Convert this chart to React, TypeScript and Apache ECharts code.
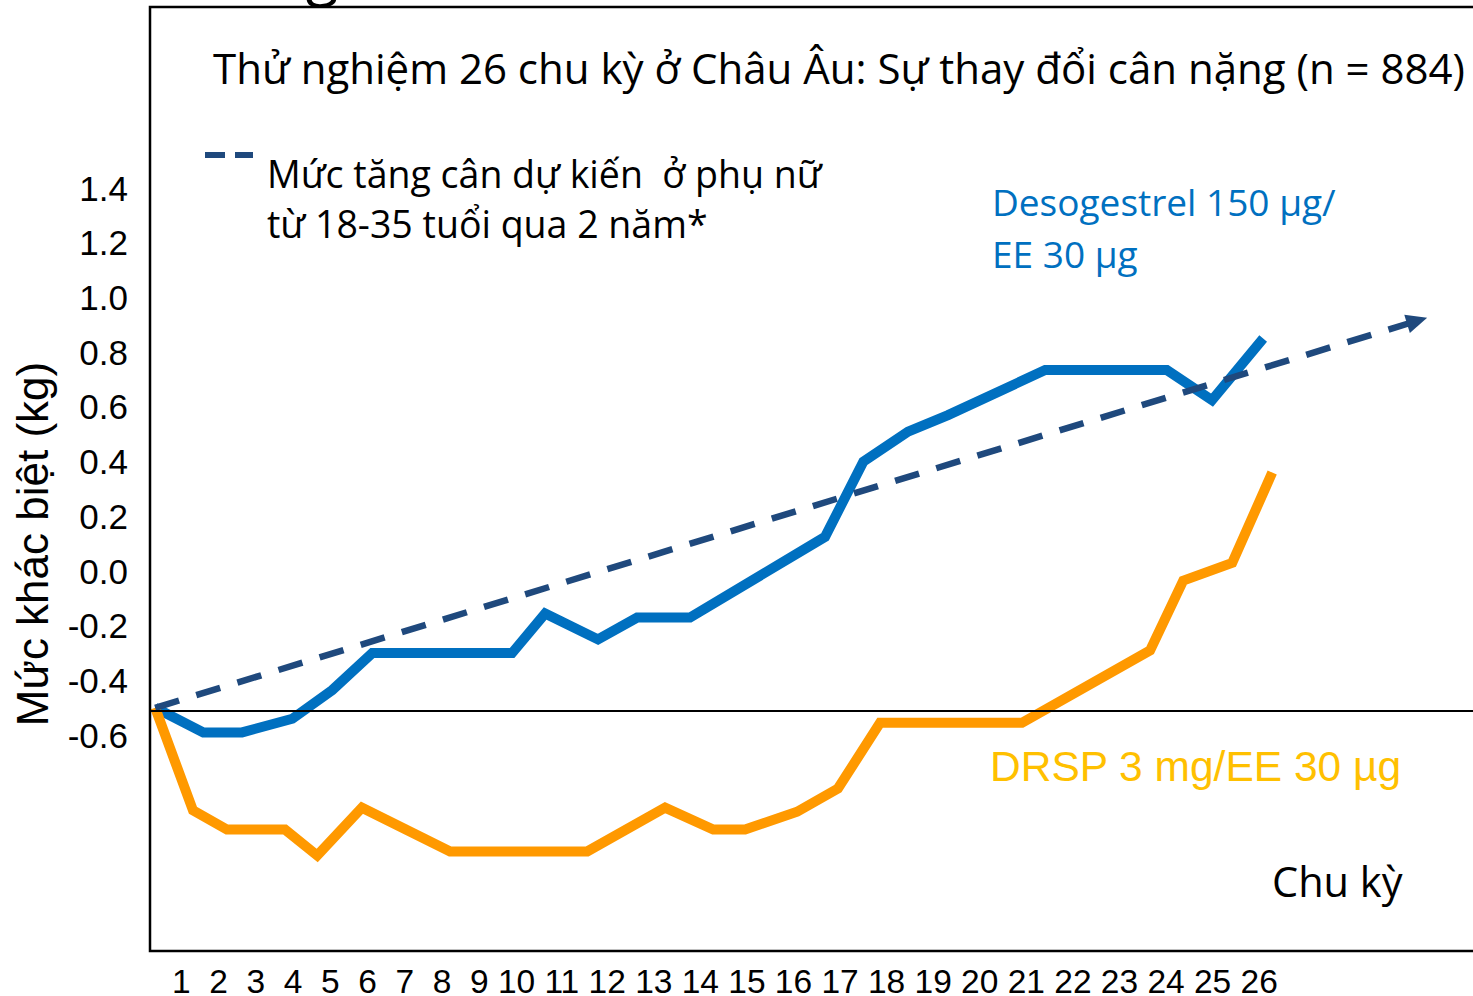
import React, { useEffect, useRef } from "react";
import * as echarts from "echarts";

// ---- data ----
const blueCycles = [0, 1.12, 2.02, 3.19, 4.12, 5.05, 8.3, 9.07, 10.3, 11.21, 12.44, 15.58, 16.47, 17.51, 18.44, 20.7, 23.53, 24.58, 25.77];
const blueValues = [-0.5, -0.59, -0.59, -0.54, -0.435, -0.3, -0.3, -0.155, -0.25, -0.17, -0.17, 0.125, 0.4, 0.51, 0.57, 0.735, 0.735, 0.625, 0.85];

const orangeCycles = [0, 0.88, 1.67, 3.02, 3.77, 4.81, 6.86, 10.05, 11.86, 12.98, 13.72, 14.93, 15.88, 16.86, 20.16, 23.14, 23.91, 25.05, 25.98];
const orangeValues = [-0.5, -0.875, -0.945, -0.945, -1.04, -0.865, -1.025, -1.025, -0.865, -0.945, -0.945, -0.88, -0.795, -0.555, -0.555, -0.29, -0.035, 0.03, 0.36];

const trendStart = [0, -0.5];
const trendEnd = [29.35, 0.915];
const baselineValue = -0.51;

const cycleLabels = ["1", "2", "3", "4", "5", "6", "7", "8", "9", "10", "11", "12", "13", "14", "15", "16", "17", "18", "19", "20", "21", "22", "23", "24", "25", "26"];
const yTickMin = -0.6;
const yTickMax = 1.4;

const TITLE = "Thử nghiệm 26 chu kỳ ở Châu Âu: Sự thay đổi cân nặng (n = 884)";
const TREND_LABEL = "Mức tăng cân dự kiến  ở phụ nữ\ntừ 18-35 tuổi qua 2 năm*";
const BLUE_LABEL = "Desogestrel 150 µg/\nEE 30 µg";
const ORANGE_LABEL = "DRSP 3 mg/EE 30 µg";
const X_NAME = "Chu kỳ";
const Y_NAME = "Mức khác biệt (kg)";

const BLUE = "#0070C0";
const ORANGE = "#FF9900";
const GOLD = "#FFC000";
const NAVY = "#1F497D";
const CAL = "'Open Sans', 'Noto Sans', sans-serif";
const ARIAL = "'Liberation Sans', Arial, sans-serif";

function zip(xs: number[], ys: number[]) {
  return xs.map((x, i) => [x, ys[i]]);
}

export default function App() {
  const ref = useRef<HTMLDivElement>(null);

  useEffect(() => {
    const chart = echarts.init(ref.current!, null, { renderer: "svg" });
    const xLabelText = cycleLabels
      .map((l, i) => (i === 0 ? l : (l.length === 1 ? "\u00A0\u00A0" : "\u00A0") + l))
      .join("");

    const option: any = {
      animation: false,
      backgroundColor: "#fff",
      grid: { left: 150, top: 24, right: 0, height: 930 },
      xAxis: { type: "value", min: -0.12, max: 30.65, show: false },
      yAxis: {
        type: "value",
        min: -1.4,
        max: 2.0,
        interval: 0.2,
        axisLine: { show: false },
        axisTick: { show: false },
        splitLine: { show: false },
        axisLabel: {
          margin: 22,
          color: "#000",
          fontFamily: ARIAL,
          fontSize: 35,
          formatter: (v: number) =>
            v > yTickMin - 0.01 && v < yTickMax + 0.01 ? (Math.abs(v) < 1e-9 ? "0.0" : v.toFixed(1)) : "",
        },
      },
      series: [
        {
          type: "line",
          data: zip(blueCycles, blueValues),
          symbol: "none",
          lineStyle: { color: BLUE, width: 10, join: "miter" },
          z: 3,
        },
        {
          type: "line",
          data: zip(orangeCycles, orangeValues),
          symbol: "none",
          lineStyle: { color: ORANGE, width: 10, join: "miter" },
          z: 4,
        },
        {
          type: "line",
          data: [],
          z: 5,
          markLine: {
            silent: true,
            symbol: ["none", "triangle"],
            symbolSize: [19, 21],
            label: { show: false },
            lineStyle: { color: NAVY, width: 6.5, type: [25, 18] },
            data: [[{ coord: trendStart }, { coord: trendEnd }]],
          },
        },
        {
          type: "line",
          data: [],
          z: 6,
          markLine: {
            silent: true,
            symbol: ["none", "none"],
            label: { show: false },
            lineStyle: { color: "#000", width: 2, type: "solid" },
            data: [{ yAxis: baselineValue }],
          },
        },
      ],
      graphic: [
        {
          type: "rect",
          shape: { x: 150, y: 7, width: 1400, height: 944 },
          style: { fill: "none", stroke: "#000", lineWidth: 2.5 },
          z: 10,
        },
        {
          type: "text",
          x: 322,
          y: -29,
          style: { text: "g", fontFamily: CAL, fontSize: 60, fill: "#000", align: "center", verticalAlign: "middle" },
        },
        {
          type: "text",
          x: 213,
          y: 67,
          style: { text: TITLE, fontFamily: CAL, fontSize: 42, fill: "#000", align: "left", verticalAlign: "middle" },
        },
        {
          type: "line",
          shape: { x1: 205, y1: 155, x2: 253, y2: 155 },
          style: { stroke: NAVY, lineWidth: 6, lineDash: [20, 10] },
        },
        {
          type: "text",
          x: 267,
          y: 148,
          style: { text: TREND_LABEL, fontFamily: CAL, fontSize: 37.5, lineHeight: 50, fill: "#000", align: "left", verticalAlign: "top" },
        },
        {
          type: "text",
          x: 992,
          y: 175,
          style: { text: BLUE_LABEL, fontFamily: CAL, fontSize: 37, lineHeight: 52, fill: BLUE, align: "left", verticalAlign: "top" },
        },
        {
          type: "text",
          x: 990,
          y: 766,
          style: { text: ORANGE_LABEL, fontFamily: ARIAL, fontSize: 42.5, fill: GOLD, align: "left", verticalAlign: "middle" },
        },
        {
          type: "text",
          x: 1272,
          y: 881,
          style: { text: X_NAME, fontFamily: CAL, fontSize: 41.5, fill: "#000", align: "left", verticalAlign: "middle" },
        },
        {
          type: "text",
          x: 172,
          y: 981,
          style: { text: xLabelText, fontFamily: ARIAL, fontSize: 33.5, lineHeight: 28, fill: "#000", align: "left", verticalAlign: "middle" },
        },
        {
          type: "text",
          x: 32,
          y: 544,
          rotation: Math.PI / 2,
          style: { text: Y_NAME, fontFamily: ARIAL, fontSize: 44, fill: "#000", align: "center", verticalAlign: "middle" },
        },
      ],
    };
    chart.setOption(option);
    return () => chart.dispose();
  }, []);

  return (
    <div
      ref={ref}
      style={{ position: "fixed", left: 0, top: 0, width: 1473, height: 996, background: "#fff" }}
    />
  );
}
